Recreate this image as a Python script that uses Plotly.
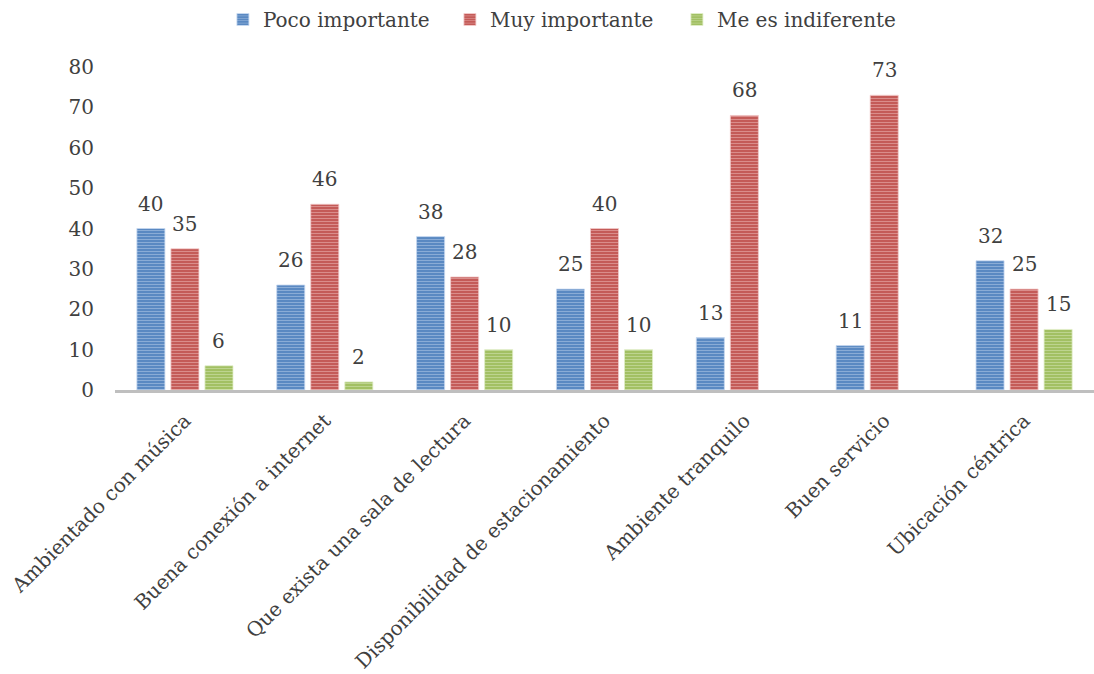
import plotly.graph_objects as go

categories = [
    "Ambientado con música",
    "Buena conexión a internet",
    "Que exista una sala de lectura",
    "Disponibilidad de estacionamiento",
    "Ambiente tranquilo",
    "Buen servicio",
    "Ubicación céntrica",
]
poco_importante = [40, 26, 38, 25, 13, 11, 32]
muy_importante = [35, 46, 28, 40, 68, 73, 25]
me_es_indiferente = [6, 2, 10, 10, None, None, 15]
y_ticks = [0, 10, 20, 30, 40, 50, 60, 70, 80]

series = [
    ("Poco importante", poco_importante, "#4F81BD", "#C6D8F0"),
    ("Muy importante", muy_importante, "#C0504D", "#F3CACA"),
    ("Me es indiferente", me_es_indiferente, "#9BBB59", "#E0EEC6"),
]

FONT = "DejaVu Serif"
TEXT = "#404040"
W, H = 1094, 674
M_L, M_R, M_T, M_B = 115, 0, 67, 284
BARGAP, BARGROUPGAP = 0.27, 0.176

fig = go.Figure()
for name, vals, base, light in series:
    fig.add_trace(go.Bar(
        name=name,
        x=categories,
        y=vals,
        marker=dict(
            color=base,
            line=dict(color=light, width=0.8),
            pattern=dict(shape="-", size=3, solidity=0.45,
                         fgcolor=light, bgcolor=base, fillmode="overlay"),
        ),
    ))

# value labels above each bar, shifted to the centre of their bar slot
plot_w = W - M_L - M_R
slot = plot_w / len(categories) * (1 - BARGAP) / len(series)
for i, (name, vals, base, light) in enumerate(series):
    dx = (i - (len(series) - 1) / 2) * slot
    for c, v in zip(categories, vals):
        if v is None:
            continue
        fig.add_annotation(
            x=c, y=v, text=str(v), showarrow=False,
            xshift=dx, yshift=11, yanchor="bottom",
            font=dict(family=FONT, size=20, color=TEXT),
        )

fig.update_layout(
    width=W, height=H,
    margin=dict(l=M_L, r=M_R, t=M_T, b=M_B),
    paper_bgcolor="white", plot_bgcolor="white",
    barmode="group", bargap=BARGAP, bargroupgap=BARGROUPGAP,
    font=dict(family=FONT, size=20, color=TEXT),
    legend=dict(
        orientation="h", xref="container", yref="container",
        x=0.515, xanchor="center", y=1.0, yanchor="top",
        font=dict(family=FONT, size=20, color=TEXT),
        itemwidth=30, tracegroupgap=0,
        entrywidth=182, entrywidthmode="pixels",
    ),
    showlegend=True,
)
fig.update_xaxes(
    showline=True, linecolor="#BFBFBF", linewidth=3,
    showgrid=False, zeroline=False, ticks="",
    tickangle=-45, ticklabelstandoff=8,
    tickfont=dict(family=FONT, size=20, color=TEXT),
)
fig.update_yaxes(
    range=[0, 80], tickvals=y_ticks,
    showline=False, showgrid=False, zeroline=False, ticks="",
    ticklabelstandoff=20,
    tickfont=dict(family=FONT, size=20, color=TEXT),
)

fig.write_html("out.html")
